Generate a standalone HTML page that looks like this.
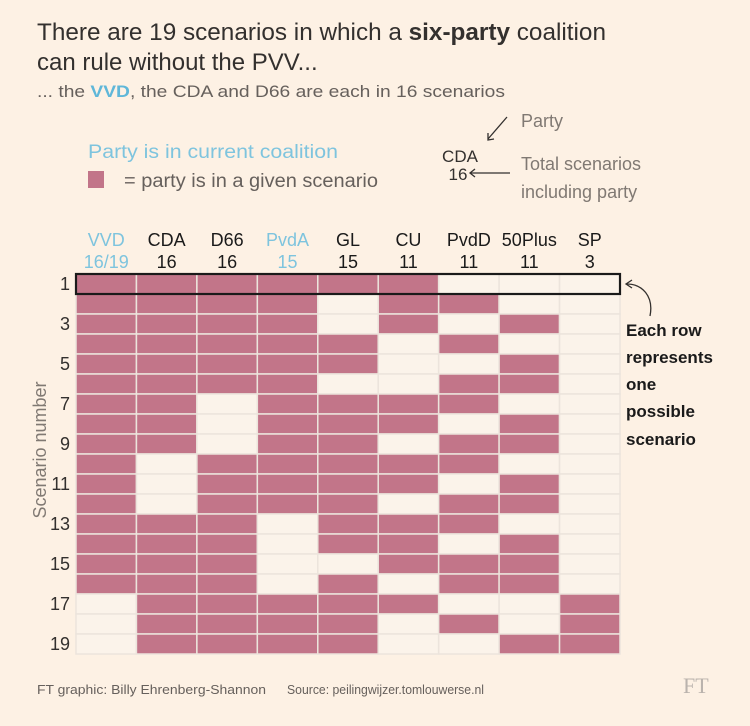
<!DOCTYPE html>
<html><head><meta charset="utf-8"><style>
body{margin:0;background:#fdf1e4;}
svg{display:block;font-family:"Liberation Sans",sans-serif;}
</style></head><body>
<svg width="750" height="726" viewBox="0 0 750 726">
<rect width="750" height="726" fill="#fdf1e4"/>
<g fill="#33302e" font-size="24">
<text x="37" y="40" textLength="569" lengthAdjust="spacingAndGlyphs">There are 19 scenarios in which a <tspan font-weight="bold">six-party</tspan> coalition</text>
<text x="37" y="70">can rule without the PVV...</text>
</g>
<text x="37" y="97" font-size="17" fill="#66605c" textLength="468" lengthAdjust="spacingAndGlyphs">... the <tspan fill="#5fb7d9" font-weight="bold">VVD</tspan>, the CDA and D66 are each in 16 scenarios</text>
<text x="88" y="158" font-size="19" fill="#7ec4de" textLength="250" lengthAdjust="spacingAndGlyphs">Party is in current coalition</text>
<rect x="88" y="171" width="16" height="17" fill="#c27589"/>
<text x="124" y="187" font-size="19" fill="#66605c" textLength="254" lengthAdjust="spacingAndGlyphs">= party is in a given scenario</text>
<g fill="#33302e">
<text x="460" y="162" font-size="17" text-anchor="middle">CDA</text>
<text x="458" y="180" font-size="17" text-anchor="middle">16</text>
<line x1="507" y1="117" x2="488" y2="139" stroke="#33302e" stroke-width="1.3"/>
<path d="M488 133 L488 140 L494 139" fill="none" stroke="#33302e" stroke-width="1.3"/>
<line x1="470" y1="173" x2="510" y2="173" stroke="#33302e" stroke-width="1.3"/>
<path d="M475 169 L470 173 L475 177" fill="none" stroke="#33302e" stroke-width="1.3"/>
<g fill="#807973" font-size="18">
<text x="521" y="127">Party</text>
<text x="521" y="170">Total scenarios</text>
<text x="521" y="198">including party</text>
</g></g>
<g id="grid"></g>
<g id="heads"></g>
<g id="rowlabels"></g>
<rect x="76" y="274" width="544" height="20" fill="none" stroke="#1a1a1a" stroke-width="2.2"/>
<text transform="translate(46,450) rotate(-90)" text-anchor="middle" font-size="18" fill="#807973">Scenario number</text>
<path d="M650 316 C654 296 642 284 627 284" fill="none" stroke="#33302e" stroke-width="1.3"/>
<path d="M632 280 L626 284 L632 288" fill="none" stroke="#33302e" stroke-width="1.3"/>
<g font-size="17" font-weight="bold" fill="#1a1a1a">
<text x="626" y="336">Each row</text>
<text x="626" y="363">represents</text>
<text x="626" y="390">one</text>
<text x="626" y="417">possible</text>
<text x="626" y="445">scenario</text>
</g>
<g font-size="13" fill="#66605c">
<text x="37" y="694" textLength="229" lengthAdjust="spacingAndGlyphs">FT graphic: Billy Ehrenberg-Shannon</text>
<text x="287" y="694" textLength="197" lengthAdjust="spacingAndGlyphs">Source: peilingwijzer.tomlouwerse.nl</text>
<text x="683" y="693" font-family="Liberation Serif,serif" font-size="22" fill="#bab3ad">FT</text>
</g>
</svg>
<script>
const parties=["VVD","CDA","D66","PvdA","GL","CU","PvdD","50Plus","SP"];
const totals=["16/19","16","16","15","15","11","11","11","3"];
const coalition=[true,false,false,true,false,false,false,false,false];
const scenarios=[
"111111000","111101100","111101010","111110100","111110010","111100110",
"110111100","110111010","110110110","101111100","101111010","101110110",
"111011100","111011010","111001110","111010110","011111001","011110101","011110011"];
const NS="http://www.w3.org/2000/svg";
const x0=76,cw=544/parties.length,y0=274,rh=380/scenarios.length;
const xs=i=>x0+i*cw, ys=r=>y0+r*rh;
const grid=document.getElementById('grid'),heads=document.getElementById('heads'),rl=document.getElementById('rowlabels');
scenarios.forEach((s,r)=>{
  for(let c=0;c<parties.length;c++){
    const el=document.createElementNS(NS,'rect');
    el.setAttribute('x',xs(c));el.setAttribute('y',ys(r));
    el.setAttribute('width',cw);el.setAttribute('height',rh);
    el.setAttribute('fill',s[c]==='1'?'#c27589':'#fbf3ea');
    el.setAttribute('stroke','#ece4dc');el.setAttribute('stroke-width','1.5');
    
    
    grid.appendChild(el);
  }
  if(r%2===0){
    const t=document.createElementNS(NS,'text');
    t.setAttribute('x',70);t.setAttribute('y',ys(r)+rh/2+6);
    t.setAttribute('text-anchor','end');t.setAttribute('font-size','18');t.setAttribute('fill','#33302e');
    t.textContent=r+1;
    
    
    rl.appendChild(t);
  }
});
parties.forEach((p,c)=>{
  const col=coalition[c]?'#7ec4de':'#1a1a1a';
  [[p,246],[totals[c],268]].forEach(([v,y])=>{
    const t=document.createElementNS(NS,'text');
    t.setAttribute('x',xs(c)+cw/2);t.setAttribute('y',y);
    t.setAttribute('text-anchor','middle');t.setAttribute('font-size','18');t.setAttribute('fill',col);
    t.textContent=v;
    
    
    heads.appendChild(t);
  });
});
</script>
</body></html>
